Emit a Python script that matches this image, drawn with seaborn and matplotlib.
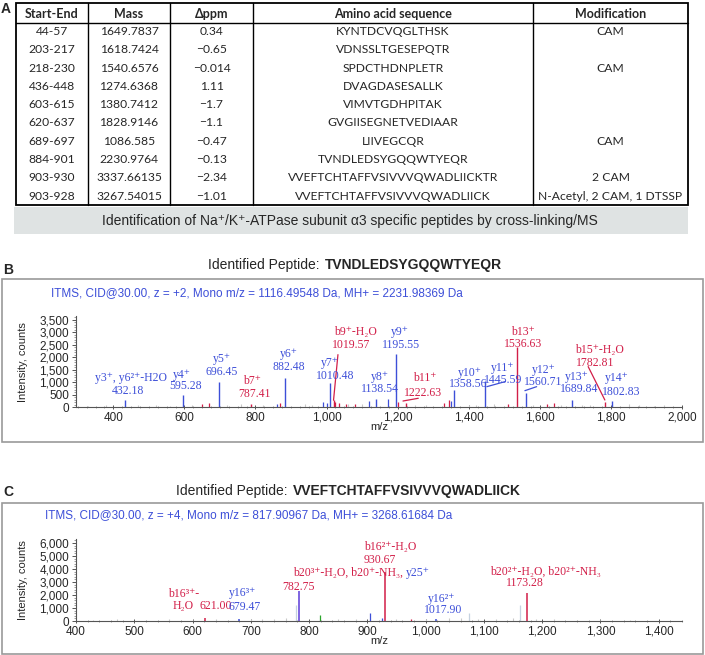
import matplotlib
matplotlib.use("Agg")
import matplotlib.pyplot as plt
import seaborn as sns
from matplotlib.patches import Rectangle
from matplotlib.ticker import FuncFormatter, MultipleLocator

# ---------------- data ----------------
# Table A
start_end = ["44-57", "203-217", "218-230", "436-448", "603-615", "620-637",
             "689-697", "884-901", "903-930", "903-928"]
mass = ["1649.7837", "1618.7424", "1540.6576", "1274.6368", "1380.7412",
        "1828.9146", "1086.585", "2230.9764", "3337.66135", "3267.54015"]
dppm = ["0.34", "\u22120.65", "\u22120.014", "1.11", "\u22121.7", "\u22121.1",
        "\u22120.47", "\u22120.13", "\u22122.34", "\u22121.01"]
sequence = ["KYNTDCVQGLTHSK", "VDNSSLTGESEPQTR", "SPDCTHDNPLETR", "DVAGDASESALLK",
            "VIMVTGDHPITAK", "GVGIISEGNETVEDIAAR", "LIIVEGCQR", "TVNDLEDSYGQQWTYEQR",
            "VVEFTCHTAFFVSIVVVQWADLIICKTR", "VVEFTCHTAFFVSIVVVQWADLIICK"]
modification = ["CAM", "", "CAM", "", "", "", "CAM", "", "2 CAM",
                "N-Acetyl, 2 CAM, 1 DTSSP"]
headers = ["Start-End", "Mass", "\u0394ppm", "Amino acid sequence", "Modification"]

# Spectrum B (labelled fragment peaks)
b_mz = [432.18, 595.28, 696.45, 787.41, 882.48, 1010.48, 1019.57, 1138.54, 1195.55,
        1222.63, 1358.56, 1445.59, 1536.63, 1560.71, 1689.84, 1782.81, 1802.83]
b_int = [270, 475, 990, 135, 1170, 950, 270, 340, 2120, 175, 680, 1030, 2400, 570,
         300, 200, 230]
b_ion = ["y", "y", "y", "b", "y", "y", "b", "y", "y", "b", "y", "y", "b", "y", "y", "b", "y"]
b_name = ["y3\u207a, y6\u00b2\u207a-H2O", "y4\u207a", "y5\u207a", "b7\u207a", "y6\u207a", "y7\u207a",
          "b9\u207a-H\u2082O", "y8\u207a", "y9\u207a", "b11\u207a", "y10\u207a", "y11\u207a",
          "b13\u207a", "y12\u207a", "y13\u207a", "b15\u207a-H\u2082O", "y14\u207a"]
# small unlabelled peaks in B
b_small_red_mz = [650, 668, 868, 1024, 1035, 1055, 1080, 1200, 1330, 1345, 1510, 1620, 1640]
b_small_red_int = [130, 160, 150, 220, 150, 120, 140, 200, 150, 270, 130, 120, 150]
b_small_blue_mz = [860, 990, 1000, 1118, 1172, 1350]
b_small_blue_int = [110, 200, 150, 230, 330, 250]
b_grey_mz = [330, 380, 470, 520, 560, 620, 720, 760, 820, 940, 960, 1060, 1100, 1250,
             1280, 1400, 1420, 1470, 1580, 1660, 1720, 1740, 1850, 1880, 1920, 1950]
b_grey_int = [60, 80, 70, 90, 60, 100, 80, 110, 90, 120, 100, 130, 110, 90, 80, 100,
              90, 110, 80, 100, 70, 90, 110, 80, 60, 70]

# Spectrum C (labelled fragment peaks)
c_mz = [621.00, 679.47, 782.75, 930.67, 1017.90, 1173.28]
c_int = [200, 130, 2330, 3750, 130, 2130]
c_ion = ["b", "y", "by", "b", "y", "b"]
c_small_mz = [777, 818, 905, 926, 975, 1075, 1162]
c_small_int = [1230, 460, 590, 220, 180, 590, 1230]
c_small_kind = ["grey", "green", "blue", "blue", "red", "grey", "grey"]
c_grey_mz = [430, 470, 520, 560, 600, 640, 700, 720, 740, 760, 850, 880, 950, 1000,
             1040, 1060, 1090, 1120, 1150, 1190, 1220, 1260, 1300, 1350]
c_grey_int = [80, 150, 100, 130, 110, 160, 120, 140, 160, 200, 170, 150, 190, 160,
              200, 230, 180, 150, 200, 140, 120, 90, 80, 70]

# ---------------- style ----------------
sns.set_theme(style="ticks")
plt.rcParams["font.family"] = ["Liberation Sans", "DejaVu Sans"]

BLUE = "#3d4fd8"
RED = "#d21e48"
GREY = "#c9c9c9"
GREEN = "#2aa52a"
ion_col = {"b": RED, "y": BLUE, "by": "#5b3ad8"}
SERIF = ["Liberation Serif", "DejaVu Serif"]
TBL = ["Lato", "DejaVu Sans"]

fig = plt.figure(figsize=(7.05, 6.55), dpi=100)

# overlay in pixel coordinates for table, frames and titles
ov = fig.add_axes([0, 0, 1, 1])
ov.set_xlim(0, 705)
ov.set_ylim(655, 0)
ov.axis("off")

# ---------------- panel A : table ----------------
col_edges = [16, 88, 170, 253, 533, 688]
top, head_line, bottom = 3, 22.5, 205
row_y = [31.5 + 18.3 * i for i in range(len(start_end))]
ov.add_patch(Rectangle((col_edges[0], top), col_edges[-1] - col_edges[0], bottom - top,
                       fill=False, ec="black", lw=1.3))
for x in col_edges[1:-1]:
    ov.plot([x, x], [top, bottom], color="black", lw=1.0)
ov.plot([col_edges[0], col_edges[-1]], [head_line, head_line], color="black", lw=1.0)
centers = [(a + b) / 2 for a, b in zip(col_edges[:-1], col_edges[1:])]
for cx, h in zip(centers, headers):
    ov.text(cx, 13.5, h, ha="center", va="center", fontsize=9, fontweight="bold", family=TBL)
columns = [start_end, mass, dppm, sequence, modification]
for cx, col in zip(centers, columns):
    for y, val in zip(row_y, col):
        ov.text(cx, y, val, ha="center", va="center", fontsize=8.7, family=TBL)
ov.add_patch(Rectangle((14, 207), 674, 27, color="#dfe3e3", lw=0))
ov.text(350, 220.5, "Identification of Na\u207a/K\u207a-ATPase subunit \u03b13 specific peptides by cross-linking/MS",
        ha="center", va="center", fontsize=10)
ov.text(1, 9, "A", fontsize=10, fontweight="bold", va="center", ha="left")

# ---------------- frames / titles for B and C ----------------
for (y0, y1) in [(279, 442), (503, 654)]:
    ov.add_patch(Rectangle((2, y0), 701, y1 - y0, fill=False, ec="#9a9a9a", lw=1.2))
ov.text(3, 270, "B", fontsize=10, fontweight="bold", va="center")
ov.text(3, 492, "C", fontsize=10, fontweight="bold", va="center")
ov.text(323, 265, "Identified Peptide: ", ha="right", va="center", fontsize=10)
ov.text(325, 265, "TVNDLEDSYGQQWTYEQR", ha="left", va="center", fontsize=10, fontweight="bold")
ov.text(291, 491, "Identified Peptide: ", ha="right", va="center", fontsize=10)
ov.text(293, 491, "VVEFTCHTAFFVSIVVVQWADLIICK", ha="left", va="center", fontsize=10, fontweight="bold")
ov.text(51, 293, "ITMS, CID@30.00, z = +2, Mono m/z = 1116.49548 Da, MH+ = 2231.98369 Da",
        color=BLUE, fontsize=8.5, va="center")
ov.text(45, 515, "ITMS, CID@30.00, z = +4, Mono m/z = 817.90967 Da, MH+ = 3268.61684 Da",
        color=BLUE, fontsize=8.5, va="center")
ov.text(23, 362, "Intensity, counts", rotation=90, ha="center", va="center", fontsize=8)
ov.text(23, 580, "Intensity, counts", rotation=90, ha="center", va="center", fontsize=8)

comma = FuncFormatter(lambda v, p: f"{v:,.0f}")


def style_axis(ax, xlim, ylim, xmaj, xmin, ymaj, ymin):
    ax.set_xlim(*xlim)
    ax.set_ylim(*ylim)
    ax.patch.set_alpha(0)
    sns.despine(ax=ax)
    for s in ["left", "bottom"]:
        ax.spines[s].set_color("#555555")
        ax.spines[s].set_linewidth(0.8)
    ax.xaxis.set_major_locator(MultipleLocator(xmaj))
    ax.xaxis.set_minor_locator(MultipleLocator(xmin))
    ax.yaxis.set_major_locator(MultipleLocator(ymaj))
    ax.yaxis.set_minor_locator(MultipleLocator(ymin))
    ax.xaxis.set_major_formatter(comma)
    ax.yaxis.set_major_formatter(comma)
    ax.tick_params(axis="both", which="major", labelsize=8.5, length=3, width=0.7,
                   color="#555555", pad=2)
    ax.tick_params(axis="both", which="minor", length=1.5, width=0.5, color="#777777")
    ax.tick_params(axis="x", which="both", direction="inout")
    ax.set_xlabel("m/z", fontsize=8, labelpad=-1)


# ---------------- panel B : spectrum ----------------
axb = fig.add_axes([76 / 705, (655 - 407) / 655, 606 / 705, 91 / 655])
style_axis(axb, (295, 2000), (0, 3650), 200, 25, 500, 100)
axb.vlines(b_grey_mz, 0, b_grey_int, color=GREY, lw=0.8)
axb.vlines(b_small_red_mz, 0, b_small_red_int, color=RED, lw=0.9)
axb.vlines(b_small_blue_mz, 0, b_small_blue_int, color=BLUE, lw=0.9)
axb.vlines(b_mz, 0, b_int, color=[ion_col[i] for i in b_ion], lw=1.0)

# label placement (name line, m/z line) in data coordinates
b_lab_pos = [((450, 1166), (441, 643)), ((593, 1286), (604, 844)), ((706, 1930), (706, 1407)),
             ((790, 1045), (796, 523)), ((894, 2110), (894, 1590)), ((1010, 1769), (1024, 1246)),
             ((1080, 3015), (1069, 2492)), ((1150, 1206), (1150, 724)), ((1207, 3015), (1209, 2492)),
             ((1277, 1166), (1271, 563)), ((1404, 1367), (1398, 925)), ((1496, 1568), (1496, 1085)),
             ((1553, 3015), (1553, 2533)), ((1612, 1487), (1609, 1005)), ((1705, 1206), (1710, 724)),
             ((1769, 2291), (1755, 1769)), ((1817, 1166), (1828, 603))]
for mz, ion, name, (p1, p2) in zip(b_mz, b_ion, b_name, b_lab_pos):
    c = ion_col[ion]
    axb.text(*p1, name, color=c, ha="center", va="center", fontsize=8.5, family=SERIF)
    axb.text(*p2, f"{mz:.2f}", color=c, ha="center", va="center", fontsize=8.5, family=SERIF)
# leader lines
for (x0, y0), (x1, y1), c in [((1032, 2100), (1019.57, 270), RED), ((1215, 240), (1258, 350), RED),
                              ((1451, 816), (1502, 1017), BLUE), ((1558, 655), (1591, 816), BLUE),
                              ((1736, 1620), (1783, 280), RED)]:
    axb.plot([x0, x1], [y0, y1], color=c, lw=0.9)

# ---------------- panel C : spectrum ----------------
axc = fig.add_axes([76 / 705, (655 - 621) / 655, 606 / 705, 82 / 655])
style_axis(axc, (400, 1440), (0, 6300), 100, 20, 1000, 200)
axc.vlines(c_grey_mz, 0, c_grey_int, color=GREY, lw=0.8)
small_col = {"grey": "#c6d2e0", "green": GREEN, "blue": BLUE, "red": RED}
axc.vlines(c_small_mz, 0, c_small_int, color=[small_col[k] for k in c_small_kind], lw=0.9)
axc.vlines(c_mz, 0, c_int, color=[ion_col[i] for i in c_ion], lw=1.1)

kw = dict(ha="center", va="center", fontsize=8.5, family=SERIF)
axc.text(584, 1615, "b16\u00b3\u207a-\nH\u2082O", color=RED, linespacing=1.0, **kw)
axc.text(640, 1150, "621.00", color=RED, **kw)
axc.text(685, 2150, "y16\u00b3\u207a", color=BLUE, **kw)
axc.text(690, 1077, "679.47", color=BLUE, **kw)
axc.text(961, 3690, "b20\u00b3\u207a-H\u2082O, b20\u207a-NH\u2083,", color=RED, fontsize=8.5,
         family=SERIF, ha="right", va="center")
axc.text(966, 3690, "y25\u207a", color=BLUE, fontsize=8.5, family=SERIF, ha="left", va="center")
axc.text(781, 2615, "782.75", color=RED, **kw)
axc.text(939, 5690, "b16\u00b2\u207a-H\u2082O", color=RED, **kw)
axc.text(922, 4690, "930.67", color=RED, **kw)
axc.text(1028, 1690, "y16\u00b2\u207a", color=BLUE, **kw)
axc.text(1030, 846, "1017.90", color=BLUE, **kw)
axc.text(1205, 3770, "b20\u00b2\u207a-H\u2082O, b20\u00b2\u207a-NH\u2083", color=RED, **kw)
axc.text(1171, 2920, "1173.28", color=RED, **kw)

fig.savefig("out.png", dpi=100)
